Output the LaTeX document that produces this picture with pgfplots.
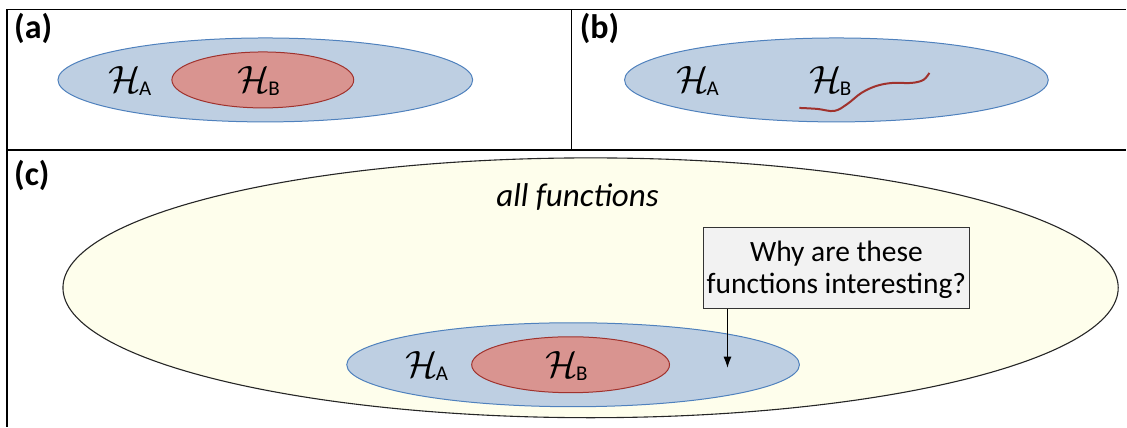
\documentclass[border=0pt]{standalone}
\usepackage{graphicx}
\usepackage{pgfplots}
\pgfplotsset{compat=1.18}
\usetikzlibrary{arrows.meta}
\usepackage{fontspec}
\setmainfont{Carlito}
\definecolor{bfill}{RGB}{190,207,226}
\definecolor{bline}{RGB}{79,129,189}
\definecolor{rfill}{RGB}{217,148,144}
\definecolor{rline}{RGB}{160,50,45}
\definecolor{yfill}{RGB}{254,254,236}
\definecolor{boxfill}{RGB}{242,242,242}
\newcommand{\Hs}[1]{\scalebox{1.53}{\Huge$\mathcal{H}$}\kern-2pt{\fontsize{21}{21}\selectfont\raisebox{-3pt}{#1}}}
\begin{document}
\begin{tikzpicture}
\begin{axis}[
  width=1127pt, height=427pt, scale only axis,
  xmin=0, xmax=1127, ymin=0, ymax=427, y dir=reverse,
  enlargelimits=false, hide axis, clip=false]
\path (axis cs:0,0) rectangle (axis cs:1127,427);
% frame
\draw[black, line width=1.6pt] (axis cs:7,427) -- (axis cs:7,9.5) -- (axis cs:1127,9.5);
\draw[black, line width=1.6pt] (axis cs:7,150) -- (axis cs:1127,150);
\draw[black, line width=1.2pt] (axis cs:572,9.5) -- (axis cs:572,150);
% panel a
\draw[bline, fill=bfill, line width=1pt] (axis cs:265.5,80) ellipse [x radius=207.5, y radius=42];
\draw[rline, fill=rfill, line width=1pt] (axis cs:263,80) ellipse [x radius=91, y radius=28];
\node at (axis cs:130,81) {\Hs{A}};
\node at (axis cs:259,81) {\Hs{B}};
\node[anchor=north west, inner sep=0pt] at (axis cs:14,13) {\fontsize{34}{34}\selectfont\bfseries (a)};
% panel b
\draw[bline, fill=bfill, line width=1pt] (axis cs:837,80) ellipse [x radius=212, y radius=42];
\node at (axis cs:698,81) {\Hs{A}};
\node at (axis cs:831,81) {\Hs{B}};
\addplot[rline, line width=2pt, smooth, tension=0.6] coordinates {
 (800,108) (818,109) (835,111) (848,104) (862,93) (877,86) (893,83) (912,83) (924,80) (930,73)};
\node[anchor=north west, inner sep=0pt] at (axis cs:580,13) {\fontsize{34}{34}\selectfont\bfseries (b)};
% panel c
\draw[black!85, fill=yfill, line width=1.1pt] (axis cs:591,288) ellipse [x radius=528, y radius=130];
\draw[bline, fill=bfill, line width=1pt] (axis cs:573.5,365) ellipse [x radius=226.5, y radius=42];
\draw[rline, fill=rfill, line width=1pt] (axis cs:571,365) ellipse [x radius=99, y radius=28];
\node at (axis cs:427,366) {\Hs{A}};
\node at (axis cs:567,366) {\Hs{B}};
\node[anchor=north west, inner sep=0pt] at (axis cs:14,160) {\fontsize{34}{34}\selectfont\bfseries (c)};
\node[anchor=base] at (axis cs:578,207) {\fontsize{33}{33}\selectfont\itshape all functions};
\draw[black!80, fill=boxfill, line width=1pt] (axis cs:704,228) rectangle (axis cs:970,309);
\node[align=center, font=\fontsize{29.5}{33}\selectfont] at (axis cs:837,270) {Why are these\\functions interesting?};
\draw[black, line width=1pt, -{Latex[length=11pt,width=8pt]}] (axis cs:728,309) -- (axis cs:728,368);
\end{axis}
\end{tikzpicture}
\end{document}
